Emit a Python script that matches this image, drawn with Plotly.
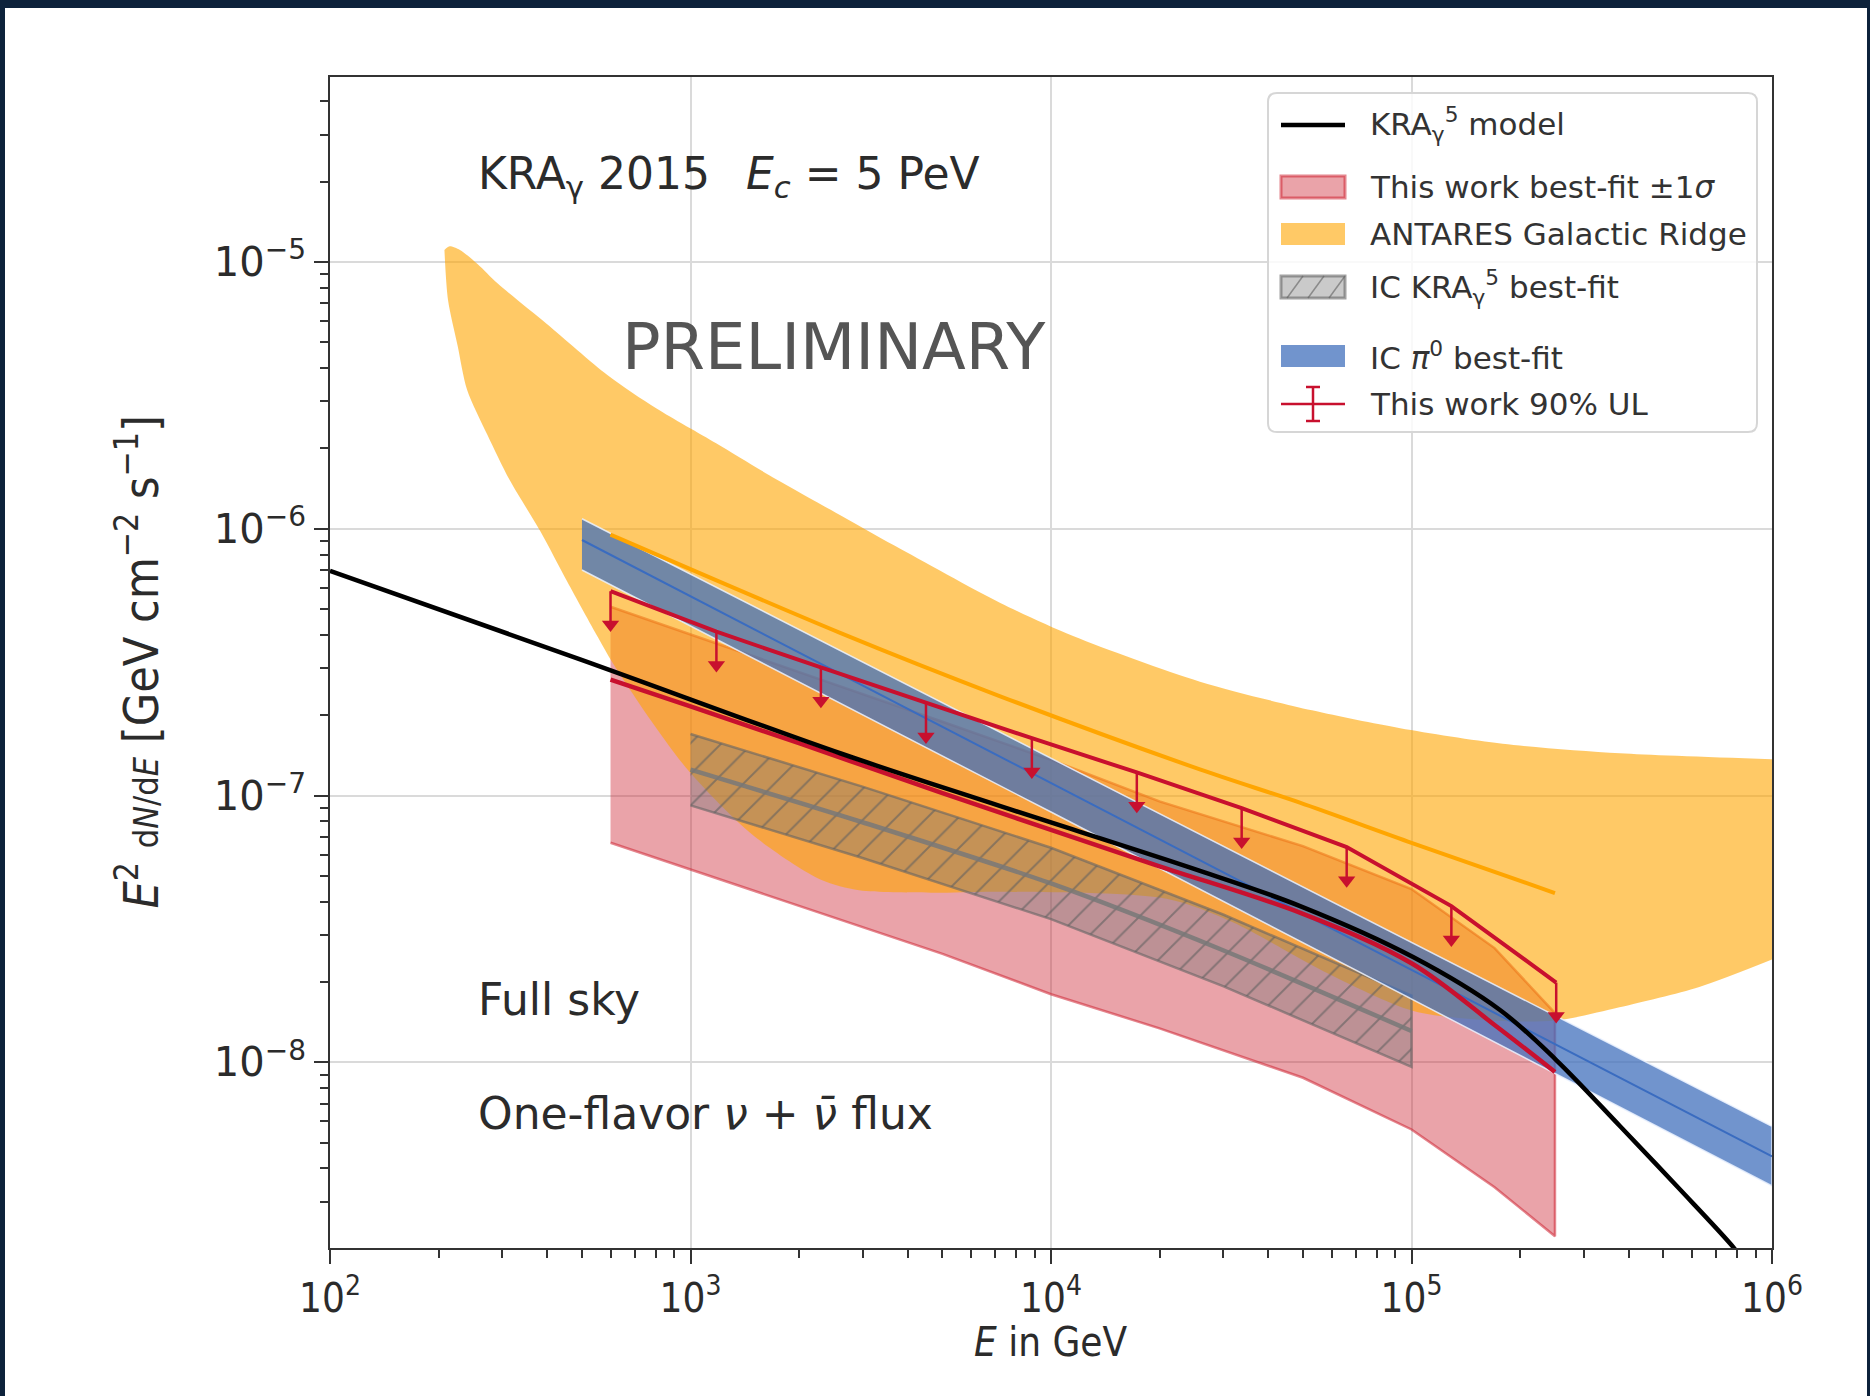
import plotly.graph_objects as go

# ---------------- data ----------------
# KRA_gamma^5 model (black line)
E_kra = [100, 494, 2600, 7240, 25900, 49100, 101000, 176000, 252000, 379000, 545000, 783000, 850000]
F_kra = [6.95e-7, 3.24e-7, 1.44e-7, 9.12e-8, 5.22e-8, 3.85e-8, 2.48e-8, 1.57e-8, 1.02e-8,
         5.76e-9, 3.43e-9, 2.02e-9, 1.74e-9]

# ANTARES Galactic Ridge band
E_ant_up = [207.7, 214.1, 229.3, 257.0, 291.4, 399.6, 589.2, 805, 1178, 1723, 2522, 3689, 7236,
            11560, 25900, 52970, 93030, 179000, 378800, 1000000]
F_ant_up = [1.108e-5, 1.143e-5, 1.108e-5, 9.80e-6, 8.31e-6, 5.85e-6, 3.76e-6, 2.82e-6, 2.09e-6,
            1.536e-6, 1.151e-6, 8.63e-7, 5.27e-7, 3.95e-7, 2.67e-7, 2.085e-7, 1.787e-7, 1.563e-7,
            1.439e-7, 1.368e-7]
E_ant_low = [207.7, 212.5, 225.8, 240.0, 273.2, 314.5, 383.6, 454.9, 554.2, 607.4, 775.0, 996.2,
             1480, 2301, 2937, 4636, 7236, 20930, 32050, 57150, 101200, 165900, 252100, 377500,
             628500, 1000000]
F_ant_low = [1.108e-5, 7.19e-6, 4.87e-6, 3.32e-6, 2.25e-6, 1.528e-6, 9.76e-7, 6.34e-7, 3.91e-7,
             3.15e-7, 1.92e-7, 1.221e-7, 7.15e-8, 4.83e-8, 4.41e-8, 4.32e-8, 4.36e-8, 4.10e-8,
             3.34e-8, 2.19e-8, 1.558e-8, 1.435e-8, 1.435e-8, 1.607e-8, 1.915e-8, 2.426e-8]
# ANTARES solid line
E_ant_line = [600, 2600, 7200, 26000, 49000, 100000, 250000]
F_ant_line = [9.5e-7, 4.07e-7, 2.36e-7, 1.25e-7, 9.4e-8, 6.65e-8, 4.31e-8]

# This work best-fit +-1 sigma
E_tw = [600, 1000, 2000, 5000, 10000, 20000, 50000, 100000, 170000, 250000]
F_tw_low = [6.65e-8, 5.25e-8, 3.85e-8, 2.55e-8, 1.80e-8, 1.34e-8, 8.75e-9, 5.6e-9, 3.4e-9, 2.23e-9]
F_tw_best = [2.72e-7, 2.16e-7, 1.57e-7, 1.02e-7, 7.43e-8, 5.43e-8, 3.6e-8, 2.35e-8, 1.38e-8, 9.2e-9]
F_tw_up = [5.1e-7, 4.02e-7, 2.9e-7, 1.89e-7, 1.36e-7, 9.5e-8, 6.46e-8, 4.46e-8, 2.68e-8, 1.53e-8]

# IC KRA_gamma^5 best-fit (hatched grey)
E_ickra = [1000, 3000, 10000, 30000, 100000]
F_ickra_up = [1.70e-7, 1.08e-7, 6.37e-8, 3.58e-8, 1.78e-8]
F_ickra_mid = [1.25e-7, 7.94e-8, 4.68e-8, 2.63e-8, 1.31e-8]
F_ickra_low = [9.18e-8, 5.83e-8, 3.44e-8, 1.93e-8, 9.62e-9]

# IC pi0 best-fit (blue)
E_icpi = [500, 10000, 100000, 1000000]
F_icpi_up = [1.09e-6, 1.38e-7, 2.82e-8, 5.75e-9]
F_icpi_mid = [9.07e-7, 1.11e-7, 2.22e-8, 4.44e-9]
F_icpi_low = [7.0e-7, 8.67e-8, 1.73e-8, 3.44e-9]

# This work 90% upper limits
E_ul = [600, 1180, 2300, 4500, 8850, 17300, 33800, 66100, 129000, 252000]
F_ul = [5.83e-7, 4.11e-7, 3.02e-7, 2.22e-7, 1.64e-7, 1.22e-7, 8.97e-8, 6.41e-8, 3.85e-8, 1.99e-8]
UL_ARROW_FRAC = 0.75  # arrow tip relative to the limit

x_ticks = [1e2, 1e3, 1e4, 1e5, 1e6]
x_ticktext = ["10<sup>2</sup>", "10<sup>3</sup>", "10<sup>4</sup>", "10<sup>5</sup>", "10<sup>6</sup>"]
y_ticks = [1e-8, 1e-7, 1e-6, 1e-5]
y_ticktext = ["10<sup>\u22128</sup>", "10<sup>\u22127</sup>", "10<sup>\u22126</sup>", "10<sup>\u22125</sup>"]

legend_labels = ["KRA<sub>\u03b3</sub><sup>5</sup> model",
                 "This work best-fit \u00b11<i>\u03c3</i>",
                 "ANTARES Galactic Ridge",
                 "IC KRA<sub>\u03b3</sub><sup>5</sup> best-fit",
                 "IC <i>\u03c0</i><sup>0</sup> best-fit",
                 "This work 90% UL"]

# ---------------- figure ----------------
W, H = 1870, 1396
L, R, T, B = 330, 98, 77, 148
PW, PH = W - L - R, H - T - B


def px(x):
    return (x - L) / PW


def py(y):
    return (H - B - y) / PH


RED = "#c8102e"
C_PINK_F, C_PINK_L = "rgba(205,35,50,0.42)", "rgba(205,35,50,0.55)"
C_ANT = "rgba(255,165,0,0.6)"
C_GREY_F, C_GREY_L = "rgba(115,115,115,0.38)", "rgba(100,100,100,0.6)"
C_HATCH = "rgba(95,95,95,0.6)"
C_BLUE = "rgba(65,112,188,0.75)"

fig = go.Figure()


def poly(E, up, low):
    return list(E) + list(E)[::-1], list(up) + list(low)[::-1]


# This work band
xs, ys = poly(E_tw, F_tw_up, F_tw_low)
fig.add_trace(go.Scatter(x=xs, y=ys, mode="lines", fill="toself", fillcolor=C_PINK_F,
                         line=dict(color=C_PINK_L, width=2.5),
                         showlegend=False, hoverinfo="skip"))
# ANTARES band (upper edge, then lower edge filled to it)
fig.add_trace(go.Scatter(x=E_ant_up, y=F_ant_up, mode="lines",
                         line=dict(color="rgba(255,165,0,0)", width=0, shape="spline",
                                   smoothing=0.8),
                         showlegend=False, hoverinfo="skip"))
fig.add_trace(go.Scatter(x=E_ant_low, y=F_ant_low, mode="lines", fill="tonexty",
                         fillcolor=C_ANT,
                         line=dict(color="rgba(255,165,0,0)", width=0, shape="spline",
                                   smoothing=0.8),
                         showlegend=False, hoverinfo="skip"))
# IC KRA hatched band
xs, ys = poly(E_ickra, F_ickra_up, F_ickra_low)
fig.add_trace(go.Scatter(x=xs, y=ys, mode="lines", fill="toself", fillcolor=C_GREY_F,
                         fillpattern=dict(shape="/", bgcolor=C_GREY_F, fgcolor=C_HATCH, size=22,
                                          solidity=0.09, fillmode="replace"),
                         line=dict(color=C_GREY_L, width=2.5),
                         showlegend=False, hoverinfo="skip"))
fig.add_trace(go.Scatter(x=E_ickra, y=F_ickra_mid, mode="lines",
                         line=dict(color="rgba(120,120,120,0.85)", width=4.5, shape="spline",
                                   smoothing=0.8),
                         showlegend=False, hoverinfo="skip"))
# IC pi0 band
xs, ys = poly(E_icpi, F_icpi_up, F_icpi_low)
fig.add_trace(go.Scatter(x=xs, y=ys, mode="lines", fill="toself", fillcolor=C_BLUE,
                         line=dict(color="rgba(235,242,255,0.85)", width=1.5),
                         showlegend=False, hoverinfo="skip"))
fig.add_trace(go.Scatter(x=E_icpi, y=F_icpi_mid, mode="lines",
                         line=dict(color="#3a6cc0", width=2),
                         showlegend=False, hoverinfo="skip"))
# ANTARES line
fig.add_trace(go.Scatter(x=E_ant_line, y=F_ant_line, mode="lines",
                         line=dict(color="#ffa500", width=4, shape="spline", smoothing=0.8),
                         showlegend=False, hoverinfo="skip"))
# This work best fit line
fig.add_trace(go.Scatter(x=E_tw, y=F_tw_best, mode="lines",
                         line=dict(color=RED, width=4.5, shape="spline", smoothing=1.0),
                         showlegend=False, hoverinfo="skip"))
# KRA model
fig.add_trace(go.Scatter(x=E_kra, y=F_kra, mode="lines",
                         line=dict(color="black", width=4.5, shape="spline", smoothing=1.0),
                         showlegend=False, hoverinfo="skip"))
# Upper limits
fig.add_trace(go.Scatter(x=E_ul, y=F_ul, mode="lines", line=dict(color=RED, width=4),
                         showlegend=False, hoverinfo="skip"))
stem_x, stem_y = [], []
for e, f in zip(E_ul, F_ul):
    stem_x += [e, e, None]
    stem_y += [f, f * UL_ARROW_FRAC, None]
fig.add_trace(go.Scatter(x=stem_x, y=stem_y, mode="lines", line=dict(color=RED, width=2.5),
                         showlegend=False, hoverinfo="skip"))
fig.add_trace(go.Scatter(x=E_ul, y=[f * UL_ARROW_FRAC for f in F_ul], mode="markers",
                         marker=dict(symbol="triangle-down", size=15, color=RED),
                         showlegend=False, hoverinfo="skip"))

TXT = "#2b2b2b"
ann = [
    dict(text="KRA<sub>\u03b3</sub> 2015\u2002 <i>E</i><sub><i>c</i></sub> = 5 PeV",
         x=px(476), y=py(176), size=44, color=TXT),
    dict(text="PRELIMINARY", x=px(620), y=py(347), size=64, color="#555555"),
    dict(text="Full sky", x=px(476), y=py(999), size=44, color=TXT),
    dict(text="One-flavor <i>\u03bd</i> + <i>\u03bd\u0304</i> flux", x=px(476), y=py(1113),
         size=44, color=TXT),
]
for a in ann:
    fig.add_annotation(text=a["text"], x=a["x"], y=a["y"], xref="paper", yref="paper",
                       xanchor="left", yanchor="middle", showarrow=False,
                       font=dict(family="DejaVu Sans", size=a["size"], color=a["color"]))

# axis titles
fig.add_annotation(text="<i>E</i> in GeV", x=px(1050), y=py(1342), xref="paper", yref="paper",
                   xanchor="center", yanchor="middle", showarrow=False,
                   font=dict(family="DejaVu Sans Condensed, DejaVu Sans", size=40, color=TXT))
fig.add_annotation(text="<i>E</i><sup>2</sup> <span style='font-size:34px'>d<i>N</i>/d<i>E</i></span>"
                        " [GeV cm<sup>\u22122</sup> s<sup>\u22121</sup>]",
                   x=px(137), y=0.5, xref="paper", yref="paper", textangle=-90,
                   xanchor="center", yanchor="middle", showarrow=False,
                   font=dict(family="DejaVu Sans Condensed, DejaVu Sans", size=48, color=TXT))

# ---------------- hand-drawn legend (matplotlib style) ----------------
shapes = [dict(type="rect", xref="paper", yref="paper", layer="below",
               x0=px(5), x1=px(1867), y0=py(H + 10), y1=py(8),
               fillcolor="white", line=dict(width=0))]

bx0, bx1, by0, by1, rad = 1268, 1757, 93, 432, 9
box_path = (f"M {px(bx0 + rad)},{py(by0)} L {px(bx1 - rad)},{py(by0)} "
            f"Q {px(bx1)},{py(by0)} {px(bx1)},{py(by0 + rad)} L {px(bx1)},{py(by1 - rad)} "
            f"Q {px(bx1)},{py(by1)} {px(bx1 - rad)},{py(by1)} L {px(bx0 + rad)},{py(by1)} "
            f"Q {px(bx0)},{py(by1)} {px(bx0)},{py(by1 - rad)} L {px(bx0)},{py(by0 + rad)} "
            f"Q {px(bx0)},{py(by0)} {px(bx0 + rad)},{py(by0)} Z")
shapes.append(dict(type="path", xref="paper", yref="paper", layer="above", path=box_path,
                   fillcolor="rgba(255,255,255,0.82)", line=dict(color="#d6d6d6", width=2)))

sx0, sx1 = 1281, 1345
item_y = [125, 187, 234, 287, 356, 404]
ph = 11  # half height of patch
# KRA line
shapes.append(dict(type="line", xref="paper", yref="paper", layer="above",
                   x0=px(sx0), x1=px(sx1), y0=py(item_y[0]), y1=py(item_y[0]),
                   line=dict(color="black", width=4.5)))
# patches
for iy, fc, lc in [(item_y[1], C_PINK_F, C_PINK_L), (item_y[2], C_ANT, None),
                   (item_y[3], C_GREY_F, C_GREY_L), (item_y[4], C_BLUE, None)]:
    shapes.append(dict(type="rect", xref="paper", yref="paper", layer="above",
                       x0=px(sx0), x1=px(sx1), y0=py(iy + ph), y1=py(iy - ph), fillcolor=fc,
                       line=dict(color=lc if lc else "rgba(0,0,0,0)", width=3 if lc else 0)))
# hatch in grey patch
hy0, hy1 = item_y[3] + ph, item_y[3] - ph
for k in range(3):
    xa = sx0 + 6 + k * 21
    shapes.append(dict(type="line", xref="paper", yref="paper", layer="above",
                       x0=px(xa), x1=px(min(xa + 16, sx1)), y0=py(hy0), y1=py(hy1),
                       line=dict(color=C_HATCH, width=1.5)))
# UL symbol
uy = item_y[5]
ux = (sx0 + sx1) / 2
shapes += [
    dict(type="line", xref="paper", yref="paper", layer="above", x0=px(sx0), x1=px(sx1),
         y0=py(uy), y1=py(uy), line=dict(color=RED, width=2.5)),
    dict(type="line", xref="paper", yref="paper", layer="above", x0=px(ux), x1=px(ux),
         y0=py(uy - 17), y1=py(uy + 17), line=dict(color=RED, width=2.5)),
    dict(type="line", xref="paper", yref="paper", layer="above", x0=px(ux - 7), x1=px(ux + 7),
         y0=py(uy - 17), y1=py(uy - 17), line=dict(color=RED, width=2.5)),
    dict(type="line", xref="paper", yref="paper", layer="above", x0=px(ux - 7), x1=px(ux + 7),
         y0=py(uy + 17), y1=py(uy + 17), line=dict(color=RED, width=2.5)),
]
for lab, iy in zip(legend_labels, item_y):
    fig.add_annotation(text=lab, x=px(1368), y=py(iy), xref="paper", yref="paper",
                       xanchor="left", yanchor="middle", showarrow=False,
                       font=dict(family="DejaVu Sans", size=31, color="#333333"))

axis_common = dict(type="log", showgrid=True, gridcolor="#dadada", gridwidth=1.5,
                   showline=True, linecolor="#333333", linewidth=2, mirror=True,
                   ticks="outside", ticklen=14, tickwidth=2, tickcolor="#333333",
                   zeroline=False,
                   minor=dict(ticks="outside", ticklen=8, tickwidth=1.5, tickcolor="#333333",
                              dtick="D1", showgrid=False))
fig.update_xaxes(**axis_common, range=[2, 6], tickmode="array", tickvals=x_ticks,
                 ticktext=x_ticktext,
                 tickfont=dict(family="DejaVu Sans Condensed, DejaVu Sans", size=40, color=TXT))
fig.update_yaxes(**axis_common, range=[-8.696, -4.307], tickmode="array", tickvals=y_ticks,
                 ticktext=y_ticktext,
                 tickfont=dict(family="DejaVu Sans", size=40, color=TXT))

fig.update_layout(
    width=W, height=H, autosize=False,
    margin=dict(l=L, r=R, t=T, b=B, pad=0),
    paper_bgcolor="#0d223b", plot_bgcolor="white",
    shapes=shapes, showlegend=False,
    font=dict(family="DejaVu Sans"),
)

fig.write_html("out.html")
